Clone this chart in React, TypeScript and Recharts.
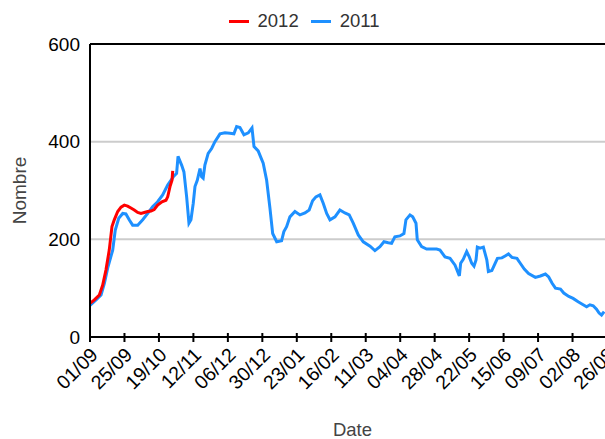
import React from 'react';
import { LineChart, Line, XAxis, YAxis, CartesianGrid, Legend, ReferenceLine } from 'recharts';

const tickLabels = ['01/09', '25/09', '19/10', '12/11', '06/12', '30/12', '23/01', '16/02', '11/03', '04/04', '28/04', '22/05', '15/06', '09/07', '02/08', '26/08'];
const tickDays = [0, 24, 48, 72, 96, 120, 144, 168, 192, 216, 240, 264, 288, 312, 336, 360];
const yTicks = [0, 200, 400, 600];

const days2011 = [0, 4.2, 7.7, 10, 12.3, 15.8, 17.6, 20, 22.8, 25, 27.3, 29.7, 33.2, 36.7, 40.2, 43.6, 47.1, 50.6, 54.1, 58, 60.3, 61.3, 63.8, 65.4, 67.3, 68.9, 70.3, 71.9, 73.1, 74.7, 76.6, 77.7, 78.8, 80, 82.3, 84.7, 87, 90.5, 94, 97.4, 100.2, 102.1, 104.4, 107.2, 110.2, 112.8, 114.2, 117.1, 118.8, 120.6, 123, 125.3, 127.2, 130, 133.4, 135, 136.9, 139.2, 142.7, 146.2, 149.7, 152.6, 155, 157.3, 160.1, 162.4, 164.8, 167.1, 170.6, 174, 177.5, 180.5, 183.3, 186.8, 190.3, 195, 198.4, 201.9, 204.7, 207.7, 210, 212.3, 215.8, 218.6, 220, 222.8, 224.7, 227, 227.9, 230.9, 234.4, 241.4, 243.7, 247.2, 250.7, 254.2, 256.5, 257.2, 258.1, 259.9, 262.3, 264.1, 265.8, 267.4, 268.8, 269.7, 271.6, 273.9, 276.3, 277.4, 279.8, 282.1, 283.7, 286.8, 289.1, 291.4, 293.8, 297.3, 299.6, 302.4, 305.4, 310.1, 313.6, 317.1, 319.4, 321.8, 324.1, 327.6, 329.9, 333.4, 336.4, 339.9, 343.4, 345.8, 348.1, 350.4, 352.7, 354.5, 356.2, 358];
const values2011 = [65, 76, 86, 110, 141, 178, 219, 243, 253, 252, 240, 229, 229, 240, 253, 267, 277, 291, 311, 328, 335, 370, 352, 338, 287, 233, 240, 274, 308, 321, 345, 328, 325, 352, 376, 386, 400, 416, 418, 417, 416, 431, 429, 414, 418, 428, 390, 381, 369, 356, 321, 264, 212, 195, 197, 216, 226, 246, 257, 250, 254, 260, 279, 287, 291, 274, 253, 240, 246, 260, 254, 250, 233, 209, 195, 186, 177, 185, 195, 193, 192, 205, 207, 212, 240, 250, 246, 233, 199, 185, 180, 180, 178, 164, 161, 147, 130, 125, 151, 159, 175, 164, 151, 145, 158, 184, 182, 184, 158, 134, 136, 151, 161, 162, 166, 170, 163, 161, 151, 139, 130, 122, 125, 129, 123, 110, 100, 98, 90, 83, 79, 72, 66, 62, 66, 64, 57, 49, 45, 52];

const days2012 = [0, 3, 6.5, 8.8, 11.1, 13.4, 15.3, 16.9, 19.3, 21.6, 23.9, 26.2, 28.5, 30.8, 33.2, 35.5, 37.8, 40.2, 42.5, 44.7, 47.1, 50.1, 52.9, 54.1, 55.7, 57.1, 57.6];
const values2012 = [69, 76, 86, 106, 137, 178, 226, 240, 257, 266, 270, 268, 264, 260, 255, 253, 255, 257, 258, 261, 270, 277, 280, 287, 308, 321, 340];

const data2011 = days2011.map((d, i) => ({ day: d, value: values2011[i] }));
const data2012 = days2012.map((d, i) => ({ day: d, value: values2012[i] }));

const legendItems = [
  { name: '2012', color: '#ff0000' },
  { name: '2011', color: '#1e90ff' },
];

const FONT = '"Liberation Sans", Arial, sans-serif';

const LegendContent = () => (
  <div style={{ display: 'flex', justifyContent: 'center', alignItems: 'flex-start', height: 34, fontFamily: FONT }}>
    {legendItems.map((it) => (
      <div key={it.name} style={{ display: 'flex', alignItems: 'center', height: 22, marginRight: 12 }}>
        <div style={{ width: 20, height: 3, background: it.color, marginRight: 9 }} />
        <span style={{ fontSize: 18.5, color: '#333', lineHeight: '22px' }}>{it.name}</span>
      </div>
    ))}
  </div>
);

const XTick = (props: any) => {
  const { x, y, payload } = props;
  const idx = Math.round(payload.value / 24);
  const tx = x + 9;
  const ty = y + 19;
  return (
    <g>
      <line x1={x} x2={x} y1={y - 4} y2={y + 5} stroke="#000" strokeWidth={2} />
      <text x={tx} y={ty} textAnchor="end" transform={`rotate(-45 ${tx} ${ty})`} fontSize={19.5} fill="#000" fontFamily={FONT}>
        {tickLabels[idx]}
      </text>
    </g>
  );
};

const NombreLabel = (props: any) => {
  const vb = props.viewBox || { x: 0, y: 44, width: 90, height: 293 };
  const cx = vb.x + 19;
  const cy = vb.y + vb.height / 2;
  return (
    <text x={cx} y={cy} transform={`rotate(-90 ${cx} ${cy})`} textAnchor="middle" dominantBaseline="central" fontSize={19} fill="#444" fontFamily={FONT}>
      Nombre
    </text>
  );
};

const DateLabel = (props: any) => {
  const vb = props.viewBox || { x: 90, y: 337, width: 517, height: 102 };
  const cx = vb.x + vb.width / 2 + 4;
  const cy = 429;
  return (
    <text x={cx} y={cy} textAnchor="middle" dominantBaseline="central" fontSize={18.5} fill="#444" fontFamily={FONT}>
      Date
    </text>
  );
};

export default function App() {
  return (
    <div style={{ position: 'absolute', left: 0, top: 0, width: 605, height: 439, overflow: 'hidden', background: '#fff', fontFamily: FONT }}>
      <LineChart width={620} height={439} margin={{ top: 10, right: 13, left: 0, bottom: 0 }} style={{ fontFamily: FONT }}>
        <CartesianGrid vertical={false} stroke="#cccccc" strokeWidth={2} />
        <XAxis
          type="number"
          dataKey="day"
          domain={[0, 360]}
          ticks={tickDays}
          interval={0}
          allowDataOverflow
          height={102}
          tickSize={0}
          tickMargin={0}
          tickLine={false}
          axisLine={{ stroke: '#000', strokeWidth: 2 }}
          tick={<XTick />}
          label={<DateLabel />}
        />
        <YAxis
          type="number"
          domain={[0, 600]}
          ticks={yTicks}
          width={90}
          tickSize={0}
          tickMargin={10}
          tickLine={false}
          axisLine={{ stroke: '#000', strokeWidth: 2 }}
          tick={{ fill: '#000', fontSize: 19, fontFamily: FONT }}
          label={<NombreLabel />}
        />
        <ReferenceLine y={600} stroke="#000" strokeWidth={2} />
        <Legend verticalAlign="top" content={<LegendContent />} wrapperStyle={{ left: 0, width: 620, top: 10 }} />
        <Line data={data2011} dataKey="value" name="2011" type="linear" stroke="#1e90ff" strokeWidth={3} dot={false} isAnimationActive={false} />
        <Line data={data2012} dataKey="value" name="2012" type="linear" stroke="#ff0000" strokeWidth={3} dot={false} isAnimationActive={false} />
      </LineChart>
    </div>
  );
}
